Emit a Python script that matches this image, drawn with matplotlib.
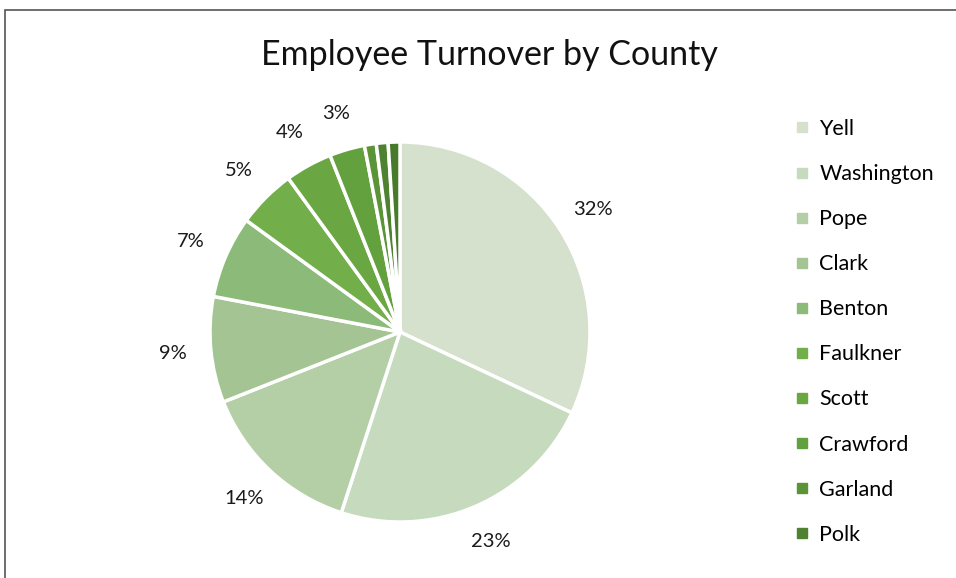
import matplotlib
matplotlib.use("Agg")
import matplotlib.pyplot as plt
from matplotlib.lines import Line2D
from matplotlib.patches import Rectangle

# ── Data ──────────────────────────────────────────────────────────────────────
counties = ["Yell", "Washington", "Pope", "Clark", "Benton", "Faulkner",
            "Scott", "Crawford", "Garland", "Polk", "Other"]
shares = [32, 23, 14, 9, 7, 5, 4, 3, 1, 1, 1]
colors = ["#d5e1cc", "#c6dabd", "#b4cfa6", "#a4c593", "#8cba79", "#72ae4a",
          "#6aa742", "#63a03e", "#5a9437", "#4f8230", "#477a2b"]
legend_n = 10  # the legend only lists the first ten counties

plt.rcParams["font.family"] = ["Lato", "DejaVu Sans"]

W, H = 956, 578
fig = plt.figure(figsize=(W / 100, H / 100), dpi=100)

# pie axes: centre (400, 332) px, radius 190 px
cx, cy, r = 400, 332, 190
ax = fig.add_axes([(cx - r) / W, (H - cy - r) / H, 2 * r / W, 2 * r / H])


def fmt(p):
    return f"{p:.0f}%" if p >= 2 else ""


wedges, texts, autotexts = ax.pie(
    shares, colors=colors, startangle=90, counterclock=False,
    autopct=fmt, pctdistance=1.2, radius=1,
    wedgeprops=dict(edgecolor="white", linewidth=2.5),
    textprops=dict(fontsize=14.5, color="#1a1a1a"))
ax.set_xlim(-1, 1)
ax.set_ylim(-1, 1)
ax.set_aspect("auto")
ax.axis("off")

fig.text(489 / W, 1 - 55 / H, "Employee Turnover by County",
         ha="center", va="center", fontsize=24.5, color="#111111")

handles = [Line2D([], [], marker="s", linestyle="none", markersize=7,
                  markerfacecolor=c, markeredgecolor=c) for c in colors[:legend_n]]
fig.legend(handles, counties[:legend_n], loc="upper left",
           bbox_to_anchor=(794 / W, 1 - 119 / H), frameon=False,
           fontsize=15.5, labelspacing=1.165, handlelength=0.75,
           handletextpad=0.42, borderaxespad=0, borderpad=0)

# chart-area border (cropped on the right and bottom)
fig.patches.append(Rectangle((4.5 / W, -0.1), 1.2, (H - 10.5) / H + 0.1,
                             transform=fig.transFigure, fill=False,
                             edgecolor="#555555", linewidth=1.2))

fig.savefig("out.png", dpi=100)
